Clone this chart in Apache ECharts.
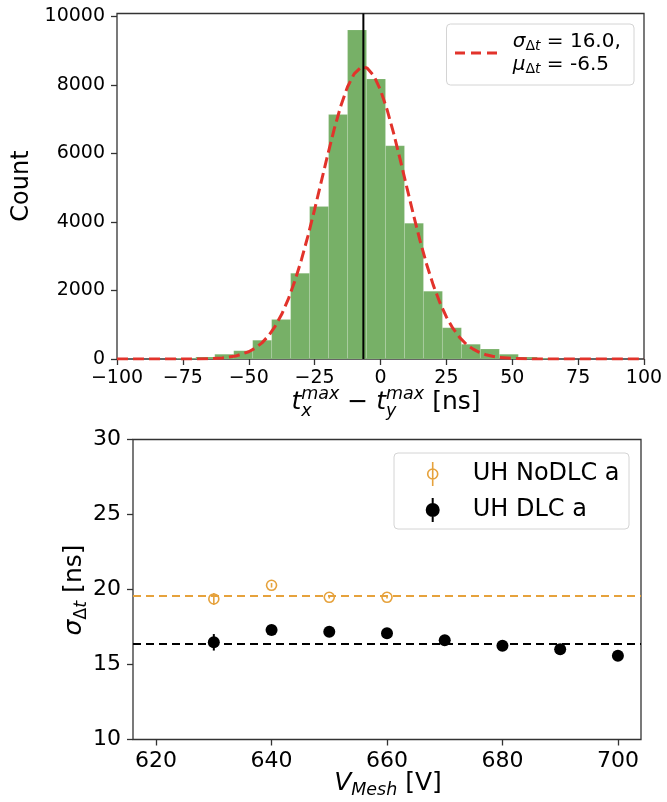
<!DOCTYPE html>
<html>
<head>
<meta charset="utf-8">
<script src="https://cdn.jsdelivr.net/npm/echarts@6/dist/echarts.min.js"></script>
<style>html,body{margin:0;padding:0;background:#fff;}#c{width:667px;height:802px;}</style>
</head>
<body>
<div id="c"></div>
<script>
// ---------- data ----------
const binEdges = [-77.3, -70.1, -62.9, -55.7, -48.5, -41.3, -34.1, -26.9, -19.7, -12.5, -5.3, 1.9, 9.1, 16.3, 23.5, 30.7, 37.9, 45.1, 52.3, 59.5, 66.7];
const binCounts = [20, 60, 140, 240, 550, 1150, 2500, 4450, 7130, 9600, 8170, 6220, 3960, 1980, 910, 430, 290, 140, 60, 25];
const fitX = [-100, -95, -90, -85, -80, -75, -70, -65, -60, -55, -50, -47.5, -45, -42.5, -40, -37.5, -35, -32.5, -30, -27.5, -25, -22.5, -20, -17.5, -15, -12.5, -10, -7.5, -6.5, -5, -2.5, 0, 2.5, 5, 7.5, 10, 12.5, 15, 17.5, 20, 22.5, 25, 27.5, 30, 32.5, 35, 37.5, 40, 42.5, 45, 50, 55, 60, 65, 70, 75, 80, 85, 90, 95, 100];
const fitY = [0, 0, 0, 0, 0, 1, 3, 11, 32, 86, 212, 320, 471, 678, 952, 1304, 1744, 2276, 2898, 3601, 4366, 5168, 5968, 6727, 7399, 7942, 8319, 8503, 8520, 8483, 8258, 7845, 7273, 6581, 5810, 5006, 4210, 3454, 2766, 2162, 1649, 1227, 891, 632, 437, 295, 194, 125, 78, 48, 17, 5, 2, 0, 0, 0, 0, 0, 0, 0, 0];
const fitMean = -6.5;
const histYTicks = [0, 2000, 4000, 6000, 8000, 10000];
const countMax = 10080;

const voltages = [630, 640, 650, 660, 670, 680, 690, 700];
const dlcSigma = [16.48, 17.30, 17.19, 17.08, 16.61, 16.25, 16.01, 15.59];
const dlcErr = [0.55, 0.10, 0.08, 0.08, 0.06, 0.06, 0.06, 0.06];
const nodlcVoltages = [630, 640, 650, 660];
const nodlcSigma = [19.37, 20.28, 19.48, 19.48];
const nodlcErr = [0.40, 0.15, 0.08, 0.08];
const nodlcMean = 19.6;
const dlcMean = 16.4;
const meshTicks = [620, 640, 660, 680, 700];

// ---------- styles ----------
const FONT = 'DejaVu Sans';
const GREEN = '#77b067';
const RED = '#e2332b';
const ORANGE = '#e6a23c';
const AX = '#333';

const measureCtx = document.createElement('canvas').getContext('2d');
function textW(t, size, italic) {
  measureCtx.font = (italic ? 'italic ' : '') + size + 'px "' + FONT + '"';
  return measureCtx.measureText(t).width;
}
function mathLabel(pieces, cx, baseY, rotation) {
  const children = [];
  let x = 0;
  const placed = [];
  pieces.forEach(p => {
    const list = p.stack ? p.stack : [p];
    let adv = 0;
    list.forEach(q => {
      const w = textW(q.t, q.s, q.i);
      placed.push({q: q, x: x});
      adv = Math.max(adv, w);
    });
    x += adv;
  });
  const W = x;
  placed.forEach(o => {
    const q = o.q;
    children.push({
      type: 'text', x: o.x - W / 2, y: (q.dy || 0) - 0.3 * q.s,
      style: {text: q.t, font: (q.i ? 'italic ' : '') + q.s + 'px "' + FONT + '"', fill: '#000',
        textAlign: 'left', align: 'left', textVerticalAlign: 'middle', verticalAlign: 'middle'}
    });
  });
  return {type: 'group', x: cx, y: baseY, rotation: rotation || 0, children: children, silent: true};
}
const minus = v => String(v).replace('-', '\u2212');
const plain = v => String(v);

const option = {
  animation: false,
  backgroundColor: '#fff',
  textStyle: {fontFamily: FONT},
  grid: [
    {left: 117, top: 13.5, width: 527, height: 345.5, show: true, borderColor: AX, borderWidth: 1.3, backgroundColor: 'transparent'},
    {left: 133, top: 439.5, width: 508, height: 300, show: true, borderColor: AX, borderWidth: 1.3, backgroundColor: 'transparent'}
  ],
  xAxis: [
    {type: 'value', gridIndex: 0, min: -100, max: 100, interval: 25,
     axisLine: {show: false, onZero: false}, splitLine: {show: false},
     axisTick: {show: true, inside: false, length: 6, lineStyle: {color: AX, width: 1.3}},
     axisLabel: {fontSize: 19, color: '#000', fontFamily: FONT, margin: 10, formatter: minus}},
    {type: 'value', gridIndex: 1, min: 616, max: 704,
     axisLine: {show: false, onZero: false}, splitLine: {show: false},
     axisTick: {show: true, inside: false, length: 6, customValues: meshTicks, lineStyle: {color: AX, width: 1.3}},
     axisLabel: {fontSize: 22, color: '#000', fontFamily: FONT, margin: 11, customValues: meshTicks, formatter: plain}}
  ],
  yAxis: [
    {type: 'value', gridIndex: 0, min: 0, max: countMax,
     axisLine: {show: false, onZero: false}, splitLine: {show: false},
     axisTick: {show: true, inside: false, length: 6, customValues: histYTicks, lineStyle: {color: AX, width: 1.3}},
     axisLabel: {fontSize: 19, color: '#000', fontFamily: FONT, margin: 12, customValues: histYTicks, formatter: plain}},
    {type: 'value', gridIndex: 1, min: 10, max: 30, interval: 5,
     axisLine: {show: false, onZero: false}, splitLine: {show: false},
     axisTick: {show: true, inside: false, length: 6, lineStyle: {color: AX, width: 1.3}},
     axisLabel: {fontSize: 22, color: '#000', fontFamily: FONT, margin: 12, formatter: plain}}
  ],
  legend: [
    {
      data: [{name: 'fit', icon: 'path://M0,0H10V3H0Z M16,0H26V3H16Z M32,0H42V3H32Z', itemStyle: {color: RED, borderWidth: 0}}],
      left: 455, top: 30, padding: 0, itemWidth: 63.4, itemHeight: 3, selectedMode: false, z: 10,
      formatter: function () { return '{m|\u03c3}{d|\u0394}{di|t} = 16.0,\n{m|\u03bc}{d|\u0394}{di|t} = -6.5'; },
      textStyle: {fontSize: 20, lineHeight: 23, fontFamily: FONT, color: '#000',
        rich: {
          m: {fontSize: 20, lineHeight: 23, fontStyle: 'italic', fontFamily: FONT, color: '#000'},
          d: {fontSize: 14, lineHeight: 10, verticalAlign: 'bottom', fontFamily: FONT, color: '#000'},
          di: {fontSize: 14, lineHeight: 10, verticalAlign: 'bottom', fontStyle: 'italic', fontFamily: FONT, color: '#000'}
        }}
    },
    {
      data: [
        {name: 'UH NoDLC a', icon: 'path://M6,0L6,24M11,12A5,5 0 1 1 1,12A5,5 0 1 1 11,12Z', itemStyle: {color: 'rgba(0,0,0,0)', borderColor: ORANGE, borderWidth: 1.6}},
        {name: 'UH DLC a', icon: 'path://M6,0L6,24M12,12A6,6 0 1 1 0,12A6,6 0 1 1 12,12Z', itemStyle: {color: '#000', borderColor: '#000', borderWidth: 2}}
      ],
      orient: 'vertical', left: 425.7, top: 460, padding: 0, itemWidth: 70, itemHeight: 24, itemGap: 8, selectedMode: false, z: 10,
      textStyle: {fontSize: 24, lineHeight: 28, fontFamily: FONT, color: '#000'}
    }
  ],
  series: [
    {type: 'custom', name: 'hist', xAxisIndex: 0, yAxisIndex: 0, clip: true,
      data: binCounts.map((c, i) => [binEdges[i], binEdges[i + 1], c]), encode: {x: [0, 1], y: 2},
      renderItem: function (params, api) {
        const p0 = api.coord([api.value(0), api.value(2)]); const p1 = api.coord([api.value(1), 0]);
        return {type: 'rect', shape: {x: p0[0], y: p0[1], width: p1[0] - p0[0], height: p1[1] - p0[1]}, style: {fill: GREEN, stroke: 'rgba(255,255,255,0.25)', lineWidth: 0.5}};
      }, z: 1},
    {type: 'line', name: 'fit', xAxisIndex: 0, yAxisIndex: 0, data: fitX.map((x, i) => [x, fitY[i]]),
      smooth: false, showSymbol: false, symbol: 'none', lineStyle: {color: RED, width: 3, type: [11, 5]}, itemStyle: {color: RED}, z: 3},
    {type: 'custom', name: 'mean', xAxisIndex: 0, yAxisIndex: 0, data: [[fitMean]], encode: {x: 0},
      renderItem: function (params, api) {
        const cs = params.coordSys; const p = api.coord([api.value(0), 0]);
        return {type: 'line', shape: {x1: p[0], y1: cs.y, x2: p[0], y2: cs.y + cs.height}, style: {stroke: '#000', lineWidth: 2}};
      }, z: 4},
    {type: 'custom', name: 'nodlcErr', xAxisIndex: 1, yAxisIndex: 1,
      data: nodlcVoltages.map((v, i) => [v, nodlcSigma[i] - nodlcErr[i], nodlcSigma[i] + nodlcErr[i]]), encode: {x: 0, y: [1, 2]},
      renderItem: function (params, api) {
        const a = api.coord([api.value(0), api.value(1)]); const b = api.coord([api.value(0), api.value(2)]);
        return {type: 'line', shape: {x1: a[0], y1: a[1], x2: b[0], y2: b[1]}, style: {stroke: ORANGE, lineWidth: 1.6}};
      }, z: 4},
    {type: 'custom', name: 'dlcErr', xAxisIndex: 1, yAxisIndex: 1,
      data: voltages.map((v, i) => [v, dlcSigma[i] - dlcErr[i], dlcSigma[i] + dlcErr[i]]), encode: {x: 0, y: [1, 2]},
      renderItem: function (params, api) {
        const a = api.coord([api.value(0), api.value(1)]); const b = api.coord([api.value(0), api.value(2)]);
        return {type: 'line', shape: {x1: a[0], y1: a[1], x2: b[0], y2: b[1]}, style: {stroke: '#000', lineWidth: 2}};
      }, z: 4},
    {type: 'scatter', name: 'UH NoDLC a', xAxisIndex: 1, yAxisIndex: 1, data: nodlcVoltages.map((v, i) => [v, nodlcSigma[i]]),
      symbol: 'circle', symbolSize: 10, itemStyle: {color: 'rgba(0,0,0,0)', borderColor: ORANGE, borderWidth: 1.6, opacity: 1}, z: 5,
      markLine: {silent: true, symbol: 'none', label: {show: false}, lineStyle: {color: ORANGE, width: 2, type: [8, 5]}, data: [{yAxis: nodlcMean}]}},
    {type: 'scatter', name: 'UH DLC a', xAxisIndex: 1, yAxisIndex: 1, data: voltages.map((v, i) => [v, dlcSigma[i]]),
      symbol: 'circle', symbolSize: 12, itemStyle: {color: '#000', opacity: 1}, z: 5,
      markLine: {silent: true, symbol: 'none', label: {show: false}, lineStyle: {color: '#000', width: 2, type: [8, 5]}, data: [{yAxis: dlcMean}]}}
  ],
  graphic: [
    {type: 'rect', z: 3, silent: true, shape: {x: 446.5, y: 24, width: 187.5, height: 61, r: 4}, style: {fill: 'rgba(255,255,255,0.85)', stroke: '#d4d4d4', lineWidth: 1}},
    {type: 'rect', z: 3, silent: true, shape: {x: 394, y: 453, width: 235, height: 76, r: 4}, style: {fill: 'rgba(255,255,255,0.85)', stroke: '#d4d4d4', lineWidth: 1}},
    mathLabel([{t: 't', s: 25, i: true}, {stack: [{t: 'max', s: 17.5, i: true, dy: -10}, {t: 'x', s: 17.5, i: true, dy: 7}]}, {t: ' \u2212 ', s: 25}, {t: 't', s: 25, i: true}, {stack: [{t: 'max', s: 17.5, i: true, dy: -10}, {t: 'y', s: 17.5, i: true, dy: 7}]}, {t: ' [ns]', s: 25}], 386, 410, 0),
    mathLabel([{t: 'V', s: 25, i: true}, {t: 'Mesh', s: 17.5, i: true, dy: 5}, {t: ' [V]', s: 25}], 388, 791, 0),
    mathLabel([{t: 'Count', s: 24}], 28.5, 186, Math.PI / 2),
    mathLabel([{t: '\u03c3', s: 25, i: true}, {t: '\u0394', s: 17.5, dy: 5}, {t: 't', s: 17.5, i: true, dy: 5}, {t: ' [ns]', s: 25}], 82, 590, Math.PI / 2)
  ]
};

const chart = echarts.init(document.getElementById('c'), null, {renderer: 'canvas'});
chart.setOption(option);
</script>
</body>
</html>
